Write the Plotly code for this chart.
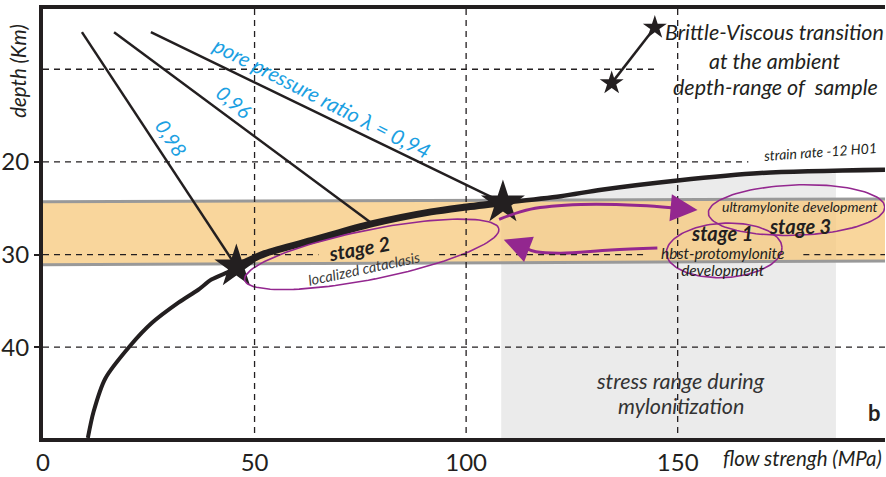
import numpy as np
import plotly.graph_objects as go

# ---------------- data ----------------
x_ticks = [0, 50, 100, 150]
y_ticks = [20, 30, 40]
x_range = [0, 199]
y_range = [49.8, 3.5]

# strain-rate (H01, -12) strength envelope
curve_low_x = [10.6, 11.95, 14.7, 20.6, 25.7, 32.0, 36.7, 39.8, 44.6, 45.7]
curve_low_d = [49.8, 46.97, 43.4, 39.85, 37.4, 35.2, 33.8, 32.7, 31.7, 31.3]
curve_mid_x = [45.7, 52.4, 64.2, 77.6, 91.7, 99.5, 108.7]
curve_mid_d = [31.3, 29.9, 28.4, 26.7, 25.4, 24.9, 24.4]
curve_up_x = [108.7, 122.4, 132.0, 150.0, 169.6, 199.0]
curve_up_d = [24.4, 23.7, 23.0, 22.0, 21.2, 20.85]

# pore pressure ratio lines
pp_labels = ["0,98", "0,96", "pore pressure ratio \u03bb = 0,94"]
pp_x0 = [9.2, 16.8, 25.5]
pp_d0 = [6.0, 6.0, 6.0]
pp_x1 = [45.7, 77.6, 108.7]
pp_d1 = [31.3, 26.6, 24.4]

stars_x = [45.7, 108.7]
stars_d = [31.3, 24.4]
legend_star_x = [144.6, 134.4]
legend_star_d = [5.5, 11.5]

band_x = [0, 199]
band_top = [24.3, 24.0]
band_bot = [31.1, 30.7]
gray_x = [108.3, 187.4]

# stage arrows
arrow_up_x = [107.8, 115.3, 127.1, 141.2, 148.5]
arrow_up_d = [26.2, 25.1, 24.6, 24.7, 24.95]
arrow_up_tip = (154.7, 25.2)
arrow_lo_x = [145.2, 134.2, 122.4, 116.5, 114.0]
arrow_lo_d = [29.3, 29.5, 29.85, 29.7, 29.3]
arrow_lo_tip = (108.9, 28.4)

# ---------------- geometry helpers ----------------
W, H = 886, 477
ML, MR, MT, MB = 41, 1, 9, 34
pw = W - ML - MR
ph = H - MT - MB
sx = pw / (x_range[1] - x_range[0])          # px per MPa
sy = ph / (y_range[0] - y_range[1])          # px per km


def ellipse(cx, cd, a_px, b_px, ang_deg, n=120):
    t = np.linspace(0, 2 * np.pi, n)
    th = np.radians(ang_deg)
    px = a_px * np.cos(t) * np.cos(th) - b_px * np.sin(t) * np.sin(th)
    py = a_px * np.cos(t) * np.sin(th) + b_px * np.sin(t) * np.cos(th)
    return cx + px / sx, cd + py / sy


INK = "#231F20"
PURPLE = "#93278F"
BLUE = "#1BA0E2"
FONT = "Lato"

fig = go.Figure()

# gray stress range region (below the envelope)
cx_all = np.array(curve_mid_x + curve_up_x[1:])
cd_all = np.array(curve_mid_d + curve_up_d[1:])
gx = np.linspace(gray_x[0], gray_x[1], 60)
gd = np.interp(gx, cx_all, cd_all)
fig.add_trace(go.Scatter(
    x=list(gx) + [gray_x[1], gray_x[0]],
    y=list(gd) + [y_range[0], y_range[0]],
    fill="toself", fillcolor="#EBEBEB", line=dict(width=0),
    mode="lines", hoverinfo="skip", showlegend=False))

# orange depth band
fig.add_trace(go.Scatter(
    x=band_x + band_x[::-1], y=band_top + band_bot[::-1],
    fill="toself", fillcolor="rgba(247,198,118,0.72)", line=dict(width=0),
    mode="lines", hoverinfo="skip", showlegend=False))
for yy in (band_top, band_bot):
    fig.add_trace(go.Scatter(x=band_x, y=yy, mode="lines",
                             line=dict(color="#999999", width=3),
                             hoverinfo="skip", showlegend=False))

# dashed grid
DASH = "6px,5px"
grid_h = [(10, [(0, 145.5)]), (20, [(0, 166.7)]),
          (30, [(0, 65.1), (93.6, 142.0), (179.7, 199)]), (40, [(0, 199)])]
for d, segs in grid_h:
    for a, b in segs:
        fig.add_shape(type="line", x0=a, x1=b, y0=d, y1=d, xref="x", yref="y",
                      line=dict(color=INK, width=1.3, dash=DASH))
for xv in [50, 100, 150]:
    fig.add_shape(type="line", x0=xv, x1=xv, y0=y_range[1], y1=y_range[0],
                  xref="x", yref="y", line=dict(color=INK, width=1.3, dash=DASH))

# pore pressure lines
for i in range(3):
    fig.add_trace(go.Scatter(x=[pp_x0[i], pp_x1[i]], y=[pp_d0[i], pp_d1[i]],
                             mode="lines", line=dict(color=INK, width=2.5),
                             hoverinfo="skip", showlegend=False))

# strain-rate envelope
fig.add_trace(go.Scatter(x=curve_low_x, y=curve_low_d, mode="lines",
                         line=dict(color=INK, width=4, shape="spline", smoothing=0.8),
                         hoverinfo="skip", showlegend=False))
fig.add_trace(go.Scatter(x=curve_mid_x, y=curve_mid_d, mode="lines",
                         line=dict(color=INK, width=7, shape="spline", smoothing=0.8),
                         hoverinfo="skip", showlegend=False))
fig.add_trace(go.Scatter(x=curve_up_x, y=curve_up_d, mode="lines",
                         line=dict(color=INK, width=4.5, shape="spline", smoothing=0.8),
                         hoverinfo="skip", showlegend=False))

# stars
fig.add_trace(go.Scatter(x=stars_x, y=stars_d, mode="markers",
                         marker=dict(symbol="star", size=33, color=INK),
                         hoverinfo="skip", showlegend=False))
fig.add_trace(go.Scatter(x=legend_star_x, y=legend_star_d, mode="lines+markers",
                         line=dict(color=INK, width=2.5),
                         marker=dict(symbol="star", size=18, color=INK),
                         hoverinfo="skip", showlegend=False, cliponaxis=False))

# purple ellipses
for cx, cd, a, b, ang in [(77.7, 29.98, 130, 25, -11.5),
                          (161.0, 29.55, 58, 27.5, -3),
                          (178.1, 25.2, 88.5, 25.5, -2)]:
    ex, ey = ellipse(cx, cd, a, b, ang)
    fig.add_trace(go.Scatter(x=ex, y=ey, mode="lines",
                             line=dict(color=PURPLE, width=1.6),
                             hoverinfo="skip", showlegend=False))

# purple arrows
for xs, ds, tip in [(arrow_up_x, arrow_up_d, arrow_up_tip),
                    (arrow_lo_x, arrow_lo_d, arrow_lo_tip)]:
    fig.add_trace(go.Scatter(x=xs, y=ds, mode="lines",
                             line=dict(color=PURPLE, width=3, shape="spline"),
                             hoverinfo="skip", showlegend=False))
    fig.add_annotation(x=tip[0], y=tip[1], ax=xs[-1], ay=ds[-1],
                       xref="x", yref="y", axref="x", ayref="y", text="",
                       showarrow=True, arrowhead=2, arrowsize=1.8,
                       arrowwidth=3, arrowcolor=PURPLE)

# ---------------- texts ----------------
def txt(x, y, s, size, angle=0, color=INK, xref="x", yref="y", **kw):
    fig.add_annotation(x=x, y=y, xref=xref, yref=yref, text=s, showarrow=False,
                       textangle=angle,
                       font=dict(family=FONT, size=size, color=color), **kw)

# pore pressure labels
txt(66.0, 13.1, "<i>" + pp_labels[2] + "</i>", 21, 27, BLUE)
txt(45.3, 13.5, "<i>" + pp_labels[1] + "</i>", 20, 40, BLUE)
txt(30.4, 17.4, "<i>" + pp_labels[0] + "</i>", 20, 57, BLUE)

txt(74.8, 29.3, "<b><i>stage 2</i></b>", 20, -10)
txt(75.9, 31.5, "<i>localized cataclasis</i>", 14.5, -12, "#3a3a3a")
txt(160.7, 29.5,
    "<span style='font-size:20px'><b><i>stage 1</i></b></span><br>"
    "<span style='font-size:15.5px'><i>hbst-protomylonite</i></span><br>"
    "<span style='font-size:15.5px'><i>development</i></span>", 13.5, 0)
txt(178.8, 26.9, "<b><i>stage 3</i></b>", 20, 0)
txt(178.8, 24.8, "<i>ultramylonite development</i>", 14, 0)
txt(183.7, 18.9, "<i>strain rate -12 H01</i>", 14, -4)

txt(172.9, 6.0, "<i>Brittle-Viscous transition</i>", 21.5)
txt(172.9, 9.1, "<i>at the ambient</i>", 21.5)
txt(173.2, 11.9, "<i>depth-range of  sample</i>", 21.5)

txt(150.7, 43.6, "<i>stress range during</i>", 21.5, 0, "#333333")
txt(150.9, 46.3, "<i>mylonitization</i>", 21.5, 0, "#333333")
txt(196.5, 47.0, "<b>b</b>", 22)

txt(0.999, -0.046, "<i>flow strengh (MPa)</i>", 20.5, 0, INK, xref="paper",
    yref="paper", xanchor="right", yanchor="middle")
txt(-0.029, 0.855, "<i>depth (Km)</i>", 20.5, -90, INK, xref="paper", yref="paper",
    xanchor="center", yanchor="middle")

fig.update_layout(
    width=W, height=H,
    margin=dict(l=ML, r=MR, t=MT, b=MB, pad=0),
    paper_bgcolor="white", plot_bgcolor="white",
    showlegend=False,
    xaxis=dict(range=x_range, tickvals=x_ticks, showgrid=False, zeroline=False,
               showline=True, mirror=True, linewidth=4, linecolor=INK,
               ticks="", tickfont=dict(family=FONT, size=24, color=INK)),
    yaxis=dict(range=y_range, tickvals=y_ticks, showgrid=False, zeroline=False,
               showline=True, mirror=False, linewidth=4, linecolor=INK,
               ticks="outside", ticklen=5, tickwidth=1.5, tickcolor=INK,
               tickfont=dict(family=FONT, size=24, color=INK)),
)

fig.write_html("out.html")
